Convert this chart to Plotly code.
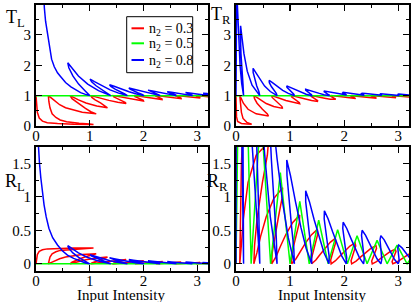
import plotly.graph_objects as go

# ---------------- data ----------------
# T_L panel
TL_red = [(0.0,1.0),(0.01,0.7),(0.025,0.45),(0.06,0.26),(0.12,0.16),(0.21,0.11),(0.4,0.08),(0.7,0.06),(1.07,0.05),
 (1.0,0.065),(0.8,0.09),(0.57,0.14),(0.45,0.2),(0.37,0.28),(0.3,0.4),(0.26,0.6),(0.24,0.8),(0.23,1.0),
 (0.30,0.9),(0.36,0.8),(0.44,0.7),(0.55,0.6),(0.73,0.5),(0.86,0.45),(1.12,0.40),
 (1.02,0.47),(0.92,0.58),(0.82,0.70),(0.74,0.80),(0.67,0.90),(0.635,1.0),
 (0.70,0.94),(0.79,0.86),(0.93,0.76),(1.13,0.66),(1.33,0.60),
 (1.30,0.64),(1.20,0.76),(1.10,0.86),(1.04,0.94),(1.02,1.0),
 (1.12,0.961),(1.22,0.909),(1.356,0.844),(1.52,0.779),(1.676,0.74),
 (1.657,0.779),(1.572,0.844),(1.495,0.909),(1.445,0.961),(1.44,1.0),
 (1.532,0.973),(1.623,0.937),(1.741,0.892),(1.877,0.847),(2.0,0.82),
 (1.996,0.847),(1.936,0.892),(1.878,0.937),(1.839,0.973),(1.84,1.0),
 (1.928,0.98),(2.012,0.954),(2.118,0.922),(2.237,0.89),(2.345,0.87),
 (2.345,0.89),(2.307,0.922),(2.262,0.954),(2.233,0.98),(2.24,1.0),
 (2.323,0.985),(2.401,0.965),(2.497,0.94),(2.603,0.915),(2.70,0.90),
 (2.70,0.915),(2.673,0.94),(2.636,0.965),(2.611,0.985),(2.62,1.0),
 (2.70,0.988),(2.774,0.972),(2.865,0.952),(2.964,0.932),(3.054,0.92),
 (3.05,0.932),(3.028,0.952),(2.997,0.972),(2.978,0.988),(2.99,1.0),
 (3.065,0.99),(3.135,0.976),(3.221,0.958),(3.314,0.94),(3.398,0.93)]
TL_green = [(0.0,1.0),(3.2,1.0)]
TL_blue = [(0.13,5.0),(0.14,4.4),(0.155,3.9),(0.178,3.45),(0.21,3.05),(0.245,2.6),(0.29,2.2),(0.34,1.95),(0.4,1.75),
 (0.46,1.62),(0.55,1.43),(0.65,1.29),(0.74,1.19),(0.83,1.1),(0.92,1.04),(1.0,1.0),
 (0.911,1.162),(0.793,1.378),(0.686,1.648),(0.611,1.918),(0.591,2.08),
 (0.662,1.918),(0.789,1.648),(0.962,1.378),(1.162,1.162),(1.39,1.0),
 (1.323,1.081),(1.223,1.189),(1.118,1.324),(1.035,1.459),(1.006,1.54),
 (1.088,1.459),(1.22,1.324),(1.379,1.189),(1.537,1.081),(1.70,1.0),
 (1.651,1.054),(1.567,1.126),(1.472,1.216),(1.393,1.306),(1.368,1.36),
 (1.453,1.306),(1.583,1.216),(1.731,1.126),(1.871,1.054),(2.01,1.0),
 (1.974,1.038),(1.904,1.088),(1.821,1.15),(1.75,1.213),(1.728,1.25),
 (1.813,1.213),(1.935,1.15),(2.069,1.088),(2.19,1.038),(2.31,1.0),
 (2.286,1.027),(2.23,1.063),(2.161,1.108),(2.101,1.153),(2.085,1.18),
 (2.167,1.153),(2.279,1.108),(2.398,1.063),(2.504,1.027),(2.61,1.0),
 (2.597,1.02),(2.554,1.046),(2.50,1.078),(2.451,1.11),(2.442,1.13),
 (2.52,1.11),(2.621,1.078),(2.725,1.046),(2.817,1.02),(2.91,1.0),
 (2.904,1.015),(2.87,1.035),(2.825,1.06),(2.785,1.085),(2.782,1.10),
 (2.855,1.085),(2.948,1.06),(3.043,1.035),(3.125,1.015),(3.21,1.0),
 (3.21,1.012),(3.181,1.028),(3.144,1.048),(3.11,1.068),(3.111,1.08),
 (3.182,1.068),(3.268,1.048),(3.356,1.028)]

# T_R panel
TR_red = [(0.0,1.0),(0.003,0.6),(0.01,0.3),(0.03,0.15),(0.1,0.085),(0.2,0.065),(0.29,0.06),
 (0.2,0.12),(0.13,0.25),(0.1,0.45),(0.08,0.7),(0.07,1.0),
 (0.098,0.9),(0.136,0.75),(0.223,0.55),(0.373,0.4),(0.6,0.33),
 (0.58,0.4),(0.489,0.55),(0.39,0.75),(0.343,0.9),(0.33,1.0),
 (0.386,0.94),(0.454,0.85),(0.559,0.74),(0.698,0.64),(0.862,0.58),
 (0.85,0.64),(0.786,0.74),(0.715,0.85),(0.669,0.94),(0.66,1.0),
 (0.741,0.96),(0.818,0.906),(0.922,0.838),(1.05,0.771),(1.178,0.73),
 (1.172,0.771),(1.115,0.838),(1.062,0.906),(1.029,0.96),(1.03,1.0),
 (1.11,0.972),(1.185,0.934),(1.284,0.886),(1.398,0.839),(1.506,0.81),
 (1.509,0.839),(1.466,0.886),(1.422,0.934),(1.394,0.972),(1.40,1.0),
 (1.477,0.979),(1.548,0.951),(1.639,0.916),(1.742,0.881),(1.837,0.86),
 (1.845,0.881),(1.811,0.916),(1.774,0.951),(1.751,0.979),(1.76,1.0),
 (1.84,0.983),(1.914,0.96),(2.006,0.931),(2.108,0.902),(2.203,0.885),
 (2.214,0.902),(2.183,0.931),(2.15,0.96),(2.128,0.983),(2.14,1.0),
 (2.221,0.985),(2.297,0.965),(2.391,0.94),(2.494,0.915),(2.589,0.90),
 (2.599,0.915),(2.567,0.94),(2.532,0.965),(2.51,0.985),(2.52,1.0),
 (2.599,0.988),(2.671,0.972),(2.76,0.952),(2.856,0.932),(2.946,0.92),
 (2.959,0.932),(2.934,0.952),(2.905,0.972),(2.887,0.988),(2.90,1.0),
 (2.979,0.99),(3.051,0.976),(3.139,0.958),(3.234,0.94),(3.323,0.93)]
TR_green = [(0.0,1.0),(3.2,1.0)]
TR_blue = [(0.0,1.0),(0.003,2.0),(0.006,3.2),(0.009,5.0),(0.015,5.0),(0.025,4.0),(0.045,3.0),(0.075,2.0),(0.105,1.4),(0.14,1.0),
 (0.13,1.345),(0.109,1.805),(0.092,2.38),(0.083,2.955),(0.085,3.3),
 (0.108,2.955),(0.147,2.38),(0.208,1.805),(0.297,1.345),(0.44,1.0),
 (0.423,1.135),(0.384,1.315),(0.344,1.54),(0.317,1.765),(0.316,1.9),
 (0.363,1.765),(0.435,1.54),(0.529,1.315),(0.634,1.135),(0.76,1.0),
 (0.745,1.075),(0.702,1.175),(0.654,1.3),(0.617,1.425),(0.613,1.5),
 (0.674,1.425),(0.761,1.3),(0.864,1.175),(0.967,1.075),(1.08,1.0),
 (1.069,1.048),(1.029,1.112),(0.982,1.192),(0.943,1.272),(0.939,1.32),
 (1.007,1.272),(1.099,1.192),(1.201,1.112),(1.297,1.048),(1.40,1.0),
 (1.397,1.032),(1.364,1.074),(1.323,1.126),(1.289,1.179),(1.289,1.21),
 (1.358,1.179),(1.447,1.126),(1.542,1.074),(1.628,1.032),(1.72,1.0),
 (1.722,1.023),(1.695,1.053),(1.661,1.09),(1.631,1.128),(1.635,1.15),
 (1.703,1.128),(1.789,1.09),(1.877,1.053),(1.955,1.023),(2.04,1.0),
 (2.047,1.017),(2.026,1.039),(1.998,1.066),(1.975,1.094),(1.982,1.11),
 (2.049,1.094),(2.129,1.066),(2.21,1.039),(2.282,1.017),(2.36,1.0),
 (2.372,1.012),(2.358,1.028),(2.338,1.048),(2.322,1.068),(2.333,1.08),
 (2.397,1.068),(2.471,1.048),(2.544,1.028),(2.608,1.012),(2.68,1.0),
 (2.696,1.009),(2.688,1.021),(2.674,1.036),(2.664,1.051),(2.679,1.06),
 (2.741,1.051),(2.809,1.036),(2.875,1.021),(2.933,1.009),(3.0,1.0),
 (3.018,1.008),(3.012,1.018),(3.0,1.03),(2.992,1.043),(3.01,1.05),
 (3.07,1.043),(3.136,1.03),(3.199,1.018),(3.255,1.008),(3.32,1.0)]

# R_L panel
RL_red = [(0.0,0.0),(0.01,0.075),(0.025,0.1375),(0.06,0.185),(0.12,0.21),(0.21,0.2225),(0.4,0.23),(0.7,0.235),(1.07,0.2375),
 (1.0,0.234),(0.8,0.2275),(0.57,0.215),(0.45,0.2),(0.37,0.18),(0.3,0.15),(0.26,0.1),(0.24,0.05),(0.23,0.0),
 (0.30,0.025),(0.36,0.05),(0.44,0.075),(0.55,0.1),(0.73,0.125),(0.86,0.1375),(1.12,0.15),
 (1.02,0.1325),(0.92,0.105),(0.82,0.075),(0.74,0.05),(0.67,0.025),(0.635,0.0),
 (0.70,0.015),(0.79,0.035),(0.93,0.06),(1.13,0.085),(1.33,0.10),
 (1.30,0.09),(1.20,0.06),(1.10,0.035),(1.04,0.015),(1.02,0.0),
 (1.12,0.0098),(1.22,0.0228),(1.356,0.039),(1.52,0.0553),(1.676,0.065),
 (1.657,0.0553),(1.572,0.039),(1.495,0.0228),(1.445,0.0098),(1.44,0.0),
 (1.532,0.0068),(1.623,0.0158),(1.741,0.027),(1.877,0.0383),(2.0,0.045),
 (1.996,0.0383),(1.936,0.027),(1.878,0.0158),(1.839,0.0068),(1.84,0.0),
 (1.928,0.005),(2.012,0.0114),(2.118,0.0195),(2.237,0.0276),(2.345,0.0325),
 (2.345,0.0276),(2.307,0.0195),(2.262,0.0114),(2.233,0.005),(2.24,0.0),
 (2.323,0.0038),(2.401,0.0088),(2.497,0.015),(2.603,0.0213),(2.70,0.025),
 (2.70,0.0213),(2.673,0.015),(2.636,0.0088),(2.611,0.0038),(2.62,0.0),
 (2.70,0.003),(2.774,0.007),(2.865,0.012),(2.964,0.017),(3.054,0.02),
 (3.05,0.017),(3.028,0.012),(2.997,0.007),(2.978,0.003),(2.99,0.0),
 (3.065,0.0026),(3.135,0.0061),(3.221,0.0105),(3.314,0.0149),(3.398,0.0175)]
RL_green = [(0.0,0.0),(3.2,0.0)]
RL_blue = [(0.02,2.1),(0.04,1.77),(0.065,1.5),(0.09,1.28),(0.12,1.05),(0.15,0.88),(0.19,0.7),(0.24,0.53),(0.31,0.39),
 (0.40,0.28),(0.49,0.195),(0.585,0.13),(0.7,0.08),(0.835,0.035),(0.92,0.012),(1.0,0.0),
 (0.911,0.0405),(0.793,0.0945),(0.686,0.162),(0.611,0.2295),(0.591,0.27),
 (0.662,0.2295),(0.789,0.162),(0.962,0.0945),(1.162,0.0405),(1.39,0.0),
 (1.323,0.02),(1.223,0.047),(1.118,0.081),(1.035,0.115),(1.006,0.135),
 (1.088,0.115),(1.22,0.081),(1.379,0.047),(1.537,0.02),(1.70,0.0),
 (1.651,0.0135),(1.567,0.0315),(1.472,0.054),(1.393,0.0765),(1.368,0.09),
 (1.453,0.0765),(1.583,0.054),(1.731,0.0315),(1.871,0.0135),(2.01,0.0),
 (1.974,0.0094),(1.904,0.0219),(1.821,0.0375),(1.75,0.0531),(1.728,0.0625),
 (1.813,0.0531),(1.935,0.0375),(2.069,0.0219),(2.19,0.0094),(2.31,0.0),
 (2.286,0.0068),(2.23,0.0158),(2.161,0.027),(2.101,0.0383),(2.085,0.045),
 (2.167,0.0383),(2.279,0.027),(2.398,0.0158),(2.504,0.0068),(2.61,0.0),
 (2.597,0.0049),(2.554,0.0114),(2.50,0.0195),(2.451,0.0276),(2.442,0.0325),
 (2.52,0.0276),(2.621,0.0195),(2.725,0.0114),(2.817,0.0049),(2.91,0.0),
 (2.904,0.0038),(2.87,0.0088),(2.825,0.015),(2.785,0.0213),(2.782,0.025),
 (2.855,0.0213),(2.948,0.015),(3.043,0.0088),(3.125,0.0038),(3.21,0.0),
 (3.181,0.007),(3.144,0.012),(3.11,0.017),(3.111,0.02),
 (3.182,0.017),(3.268,0.012),(3.356,0.007)]

# R_R panel
RR_red = [(0.0,0.0),(0.003,1.08),(0.01,1.89),(0.03,2.3),(0.1,2.47),(0.2,2.52),(0.29,2.54),
 (0.2,2.38),(0.13,2.03),(0.1,1.49),(0.08,0.81),(0.07,0.0),
 (0.098,0.27),(0.136,0.675),(0.223,1.215),(0.373,1.62),(0.6,1.81),
 (0.58,1.62),(0.489,1.215),(0.39,0.675),(0.343,0.27),(0.33,0.0),
 (0.386,0.162),(0.454,0.405),(0.559,0.702),(0.698,0.972),(0.862,1.134),
 (0.85,0.972),(0.786,0.702),(0.715,0.405),(0.669,0.162),(0.66,0.0),
 (0.741,0.108),(0.818,0.254),(0.922,0.437),(1.05,0.618),(1.178,0.729),
 (1.172,0.618),(1.115,0.437),(1.062,0.254),(1.029,0.108),(1.03,0.0),
 (1.11,0.076),(1.185,0.178),(1.284,0.308),(1.398,0.435),(1.506,0.513),
 (1.509,0.435),(1.466,0.308),(1.422,0.178),(1.394,0.076),(1.40,0.0),
 (1.477,0.057),(1.548,0.132),(1.639,0.227),(1.742,0.321),(1.837,0.378),
 (1.845,0.321),(1.811,0.227),(1.774,0.132),(1.751,0.057),(1.76,0.0),
 (1.84,0.046),(1.914,0.108),(2.006,0.186),(2.108,0.265),(2.203,0.311),
 (2.214,0.265),(2.183,0.186),(2.15,0.108),(2.128,0.046),(2.14,0.0),
 (2.221,0.041),(2.297,0.095),(2.391,0.162),(2.494,0.23),(2.589,0.27),
 (2.599,0.23),(2.567,0.162),(2.532,0.095),(2.51,0.041),(2.52,0.0),
 (2.599,0.032),(2.671,0.076),(2.76,0.13),(2.856,0.184),(2.946,0.216),
 (2.959,0.184),(2.934,0.13),(2.905,0.076),(2.887,0.032),(2.90,0.0),
 (2.979,0.027),(3.051,0.065),(3.139,0.113),(3.234,0.162),(3.323,0.189)]
RR_green = [(0.0,0.0),(0.10,6.0),(0.28,0.0),(0.46,2.3),(0.64,0.0),(0.82,1.36),(1.0,0.0),(1.18,0.93),(1.355,0.0),
 (1.53,0.65),(1.705,0.0),(1.88,0.51),(2.06,0.0),(2.24,0.42),(2.425,0.0),(2.61,0.35),(2.795,0.0),(2.98,0.28),
 (3.165,0.0),(3.35,0.22)]
RR_blue = [(0.0,0.0),(0.003,5.2),(0.009,20.0),(0.015,20.0),(0.045,10.4),(0.075,5.2),(0.105,2.08),(0.14,0.0),
 (0.13,1.8),(0.109,4.2),(0.092,7.2),(0.083,10.2),(0.085,12.0),
 (0.108,10.2),(0.147,7.2),(0.208,4.2),(0.297,1.8),(0.44,0.0),
 (0.423,0.705),(0.384,1.645),(0.344,2.82),(0.317,4.0),(0.316,4.7),
 (0.363,4.0),(0.435,2.82),(0.529,1.645),(0.634,0.705),(0.76,0.0),
 (0.745,0.39),(0.702,0.91),(0.654,1.56),(0.617,2.21),(0.613,2.6),
 (0.674,2.21),(0.761,1.56),(0.864,0.91),(0.967,0.39),(1.08,0.0),
 (1.069,0.233),(1.029,0.543),(0.982,0.93),(0.943,1.318),(0.939,1.55),
 (1.007,1.318),(1.099,0.93),(1.201,0.543),(1.297,0.233),(1.40,0.0),
 (1.397,0.164),(1.364,0.382),(1.323,0.654),(1.289,0.927),(1.289,1.09),
 (1.358,0.927),(1.447,0.654),(1.542,0.382),(1.628,0.164),(1.72,0.0),
 (1.722,0.119),(1.695,0.277),(1.661,0.474),(1.631,0.672),(1.635,0.79),
 (1.703,0.672),(1.789,0.474),(1.877,0.277),(1.955,0.119),(2.04,0.0),
 (2.047,0.093),(2.026,0.217),(1.998,0.372),(1.975,0.527),(1.982,0.62),
 (2.049,0.527),(2.129,0.372),(2.21,0.217),(2.282,0.093),(2.36,0.0),
 (2.372,0.075),(2.358,0.175),(2.338,0.3),(2.322,0.425),(2.333,0.5),
 (2.397,0.425),(2.471,0.3),(2.544,0.175),(2.608,0.075),(2.68,0.0),
 (2.696,0.063),(2.688,0.147),(2.674,0.252),(2.664,0.357),(2.679,0.42),
 (2.741,0.357),(2.809,0.252),(2.875,0.147),(2.933,0.063),(3.0,0.0),
 (3.018,0.042),(3.012,0.098),(3.0,0.168),(2.992,0.238),(3.01,0.28),
 (3.07,0.238),(3.136,0.168),(3.199,0.098),(3.255,0.042),(3.32,0.0)]

legend_labels = ["n<sub>2</sub> = 0.3", "n<sub>2</sub> = 0.5", "n<sub>2</sub> = 0.8"]
panel_labels = ["T<sub>L</sub>", "T<sub>R</sub>", "R<sub>L</sub>", "R<sub>R</sub>"]
x_title = "Input Intensity"
x_ticks = [0, 1, 2, 3]

RED, GREEN, BLUE = "#ff0000", "#00ff00", "#0000ff"
FONT = "Liberation Serif"
W, H = 415, 302

def px(x):
    return x / W

def py(y):
    return 1 - y / H

fig = go.Figure()

panels = [
    ("x", "y", [(TL_red, RED), (TL_green, GREEN), (TL_blue, BLUE)]),
    ("x2", "y2", [(TR_red, RED), (TR_green, GREEN), (TR_blue, BLUE)]),
    ("x3", "y3", [(RL_red, RED), (RL_green, GREEN), (RL_blue, BLUE)]),
    ("x4", "y4", [(RR_red, RED), (RR_green, GREEN), (RR_blue, BLUE)]),
]
for xa, ya, series in panels:
    for pts, col in series:
        fig.add_trace(go.Scatter(
            x=[p[0] for p in pts], y=[p[1] for p in pts], mode="lines",
            line=dict(color=col, width=1.5), xaxis=xa, yaxis=ya,
            showlegend=False, hoverinfo="skip"))

def axis_style(**kw):
    d = dict(showline=True, linecolor="black", linewidth=2, mirror="ticks",
             ticks="inside", ticklen=6, tickwidth=1.2, tickcolor="black",
             showgrid=False, zeroline=False, automargin=False,
             tickfont=dict(family=FONT, size=15, color="black"),
             minor=dict(ticks="inside", ticklen=3, tickwidth=1, tickcolor="black", showgrid=False))
    d.update(kw)
    return d

xd_left = [px(36), px(208)]
xd_right = [px(236), px(409)]
yd_top = [py(126), py(4.5)]
yd_bot = [py(270.5), py(146.5)]

def xax(domain, anchor):
    a = axis_style(domain=domain, anchor=anchor, range=[0, 3.2], tickmode="array", tickvals=x_ticks,
                   ticklabelstandoff=-5)
    a["minor"]["dtick"] = 0.5
    a["minor"]["tick0"] = 0
    return a

def yax(domain, anchor, rng, dtick, mdtick):
    a = axis_style(domain=domain, anchor=anchor, range=rng, dtick=dtick, tick0=0)
    a["minor"]["dtick"] = mdtick
    a["minor"]["tick0"] = 0
    return a

fig.update_layout(
    template="none",
    width=W, height=H,
    margin=dict(l=0, r=0, t=0, b=0, pad=0, autoexpand=False),
    paper_bgcolor="white", plot_bgcolor="white",
    showlegend=False,
    hovermode=False,
    xaxis=xax(xd_left, "y"),
    yaxis=yax(yd_top, "x", [0, 4], 1, 0.5),
    xaxis2=xax(xd_right, "y2"),
    yaxis2=yax(yd_top, "x2", [0, 4], 1, 0.5),
    xaxis3=xax(xd_left, "y3"),
    yaxis3=yax(yd_bot, "x3", [-0.1, 1.75], 0.5, 0.25),
    xaxis4=xax(xd_right, "y4"),
    yaxis4=yax(yd_bot, "x4", [-0.1, 1.75], 0.5, 0.25),
)

annots = []
# panel labels
for (lx, ly), txt in zip([(4, 19), (209, 15), (3, 182), (205, 182)], panel_labels):
    annots.append(dict(x=px(lx), y=py(ly), xref="paper", yref="paper", text=txt, showarrow=False,
                       xanchor="left", yanchor="middle", font=dict(family=FONT, size=18, color="black")))
# x titles
for cx in (121, 322):
    annots.append(dict(x=px(cx), y=py(294.5), xref="paper", yref="paper", text=x_title, showarrow=False,
                       xanchor="center", yanchor="middle", font=dict(family=FONT, size=15, color="black")))
# custom legend
shapes = [dict(type="rect", xref="paper", yref="paper", x0=px(126.7), x1=px(192.7), y0=py(72.7), y1=py(16.7),
               line=dict(color="black", width=1), fillcolor="white", layer="above")]
for (yy, col, txt) in zip([28.3, 43.3, 60.0], [RED, GREEN, BLUE], legend_labels):
    shapes.append(dict(type="line", xref="paper", yref="paper", x0=px(131.5), x1=px(144), y0=py(yy), y1=py(yy),
                       line=dict(color=col, width=2), layer="above"))
    annots.append(dict(x=px(147), y=py(yy + 1), xref="paper", yref="paper", text=txt, showarrow=False,
                       xanchor="left", yanchor="middle", font=dict(family=FONT, size=14, color="black")))

fig.update_layout(annotations=annots, shapes=shapes)
fig.write_html("out.html", config={"displayModeBar": False, "staticPlot": True},
               post_script="document.body.style.margin='0px';document.body.style.padding='0px';")
